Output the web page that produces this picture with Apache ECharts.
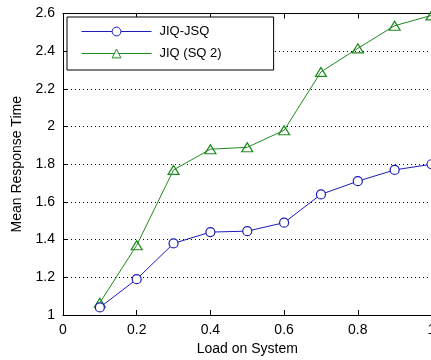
<!DOCTYPE html>
<html><head><meta charset="utf-8">
<script src="https://cdn.jsdelivr.net/npm/echarts@6/dist/echarts.min.js"></script>
<style>html,body{margin:0;padding:0;background:#fff}#c{width:431px;height:360px}</style>
</head><body><div id="c"></div>
<script>
const loads = [0.1,0.2,0.3,0.4,0.5,0.6,0.7,0.8,0.9,1.0];
const jiqJsq = [1.04,1.19,1.38,1.44,1.445,1.49,1.64,1.71,1.77,1.80];
const jiqSq2 = [1.065,1.37,1.77,1.88,1.89,1.98,2.29,2.415,2.535,2.59];
const seriesNames = ['JIQ-JSQ','JIQ (SQ 2)'];
const xName = 'Load on System';
const yName = 'Mean Response Time';

const font = 'Liberation Sans, Arial, sans-serif';
const blue = '#1c1cb8', green = '#1f8a1f';
const colors = [blue, green];
const chart = echarts.init(document.getElementById('c'));
const pair = (xs, ys) => xs.map((x,i)=>[x, ys[i]]);
chart.setOption({
  animation:false,
  textStyle:{fontFamily:font},
  grid:{left:63, top:13.5, width:368.5, height:301.5, show:false, containLabel:false, outerBoundsMode:'none'},
  legend:{
    left:67, top:17, orient:'vertical',
    backgroundColor:'#fff', borderColor:'#000', borderWidth:1,
    padding:[8,52,10,14], itemGap:9, itemWidth:70, itemHeight:11,
    textStyle:{fontFamily:font, fontSize:13, color:'#000', padding:[0,0,0,3]},
    data:seriesNames.map((n,i)=>({name:n,
      lineStyle:{color:colors[i], width:1},
      itemStyle:{borderColor:colors[i], borderWidth:1, color:'#fff'}}))
  },
  xAxis:[{
    type:'value', min:0, max:1, interval:0.2,
    name:xName, nameLocation:'middle', nameGap:25,
    nameTextStyle:{fontFamily:font, fontSize:14, color:'#000'},
    axisLine:{show:true, onZero:false, lineStyle:{color:'#000', width:1}},
    axisTick:{show:true, inside:true, length:5, lineStyle:{color:'#000'}},
    axisLabel:{fontFamily:font, fontSize:14, color:'#000', margin:8,
      formatter:v=>String(+v.toFixed(1))},
    splitLine:{show:false}
  },{
    type:'value', min:0, max:1, interval:0.2, position:'top',
    axisLine:{show:true, onZero:false, lineStyle:{color:'#000', width:1}},
    axisTick:{show:true, inside:true, length:5, lineStyle:{color:'#000'}},
    axisLabel:{show:false}, splitLine:{show:false}
  }],
  yAxis:{
    type:'value', min:1, max:2.6, interval:0.2,
    name:yName, nameLocation:'middle', nameGap:32,
    nameTextStyle:{fontFamily:font, fontSize:14, color:'#000'},
    axisLine:{show:true, onZero:false, lineStyle:{color:'#000', width:1}},
    axisTick:{show:true, inside:true, length:5, lineStyle:{color:'#000'}},
    axisLabel:{fontFamily:font, fontSize:14, color:'#000', margin:8,
      formatter:v=>String(+v.toFixed(1))},
    splitLine:{show:true, lineStyle:{color:'#000', width:1, type:[1,3]}}
  },
  series:[{
    name:seriesNames[0], type:'line', data:pair(loads, jiqJsq),
    symbol:'circle', symbolSize:9, showAllSymbol:true,
    lineStyle:{color:blue, width:1},
    itemStyle:{color:'#fff', borderColor:blue, borderWidth:1.2},
    z:3
  },{
    name:seriesNames[1], type:'line', data:pair(loads, jiqSq2),
    symbol:'triangle', symbolSize:[11,9], showAllSymbol:true,
    lineStyle:{color:green, width:1},
    itemStyle:{color:'none', borderColor:green, borderWidth:1.2},
    z:2
  }]
});
</script></body></html>
